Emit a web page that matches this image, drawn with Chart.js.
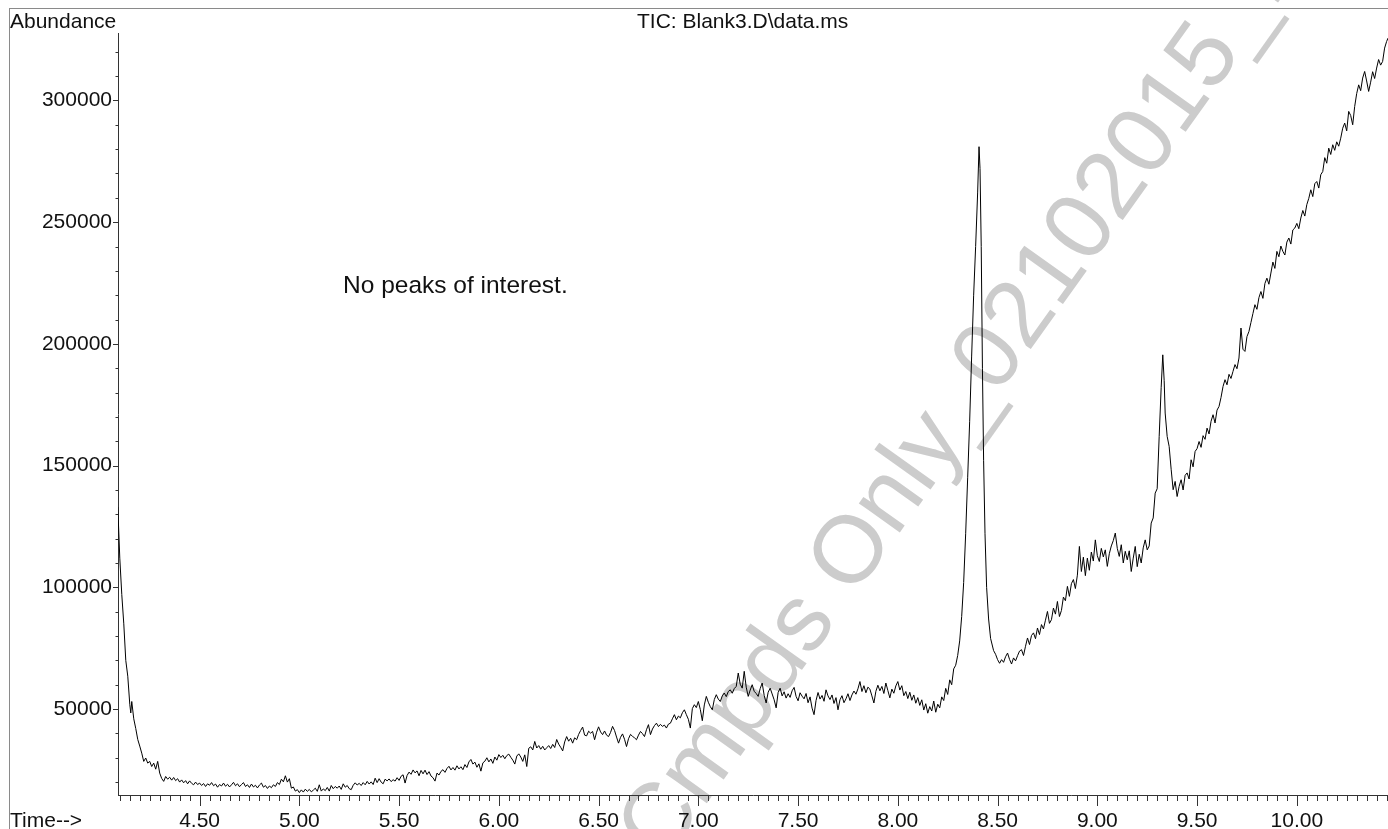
<!DOCTYPE html>
<html>
<head>
<meta charset="utf-8">
<script src="https://cdn.jsdelivr.net/npm/chart.js"></script>
<style>
  html, body { margin: 0; padding: 0; background: #fff; overflow: hidden; }
  #wrap { position: relative; width: 1388px; height: 829px; overflow: hidden;
          font-family: 'Liberation Sans', Arial, Helvetica, sans-serif; color: #111; }
  #frame { position: absolute; left: 9px; top: 8px; width: 1400px; height: 840px;
           border-left: 1px solid #8a8a8a; border-top: 1px solid #8a8a8a; }
  #watermark { position: absolute; left: 598px; top: 818px; font-size: 95px; line-height: 1;
               color: #cccccc; white-space: nowrap; transform-origin: 0 0; transform: rotate(-54.5deg); }
  #chart { position: absolute; left: 0; top: 0; }
  .lbl { position: absolute; font-size: 21px; line-height: 21px; white-space: nowrap; }
</style>
</head>
<body>
<div id="wrap">
  <div id="frame"></div>
  <div id="watermark">Cmpds Only_02102015_D</div>
  <canvas id="chart" width="1388" height="829"></canvas>
  <div class="lbl" style="left:10px; top:10px;">Abundance</div>
  <div class="lbl" style="left:637px; top:10px;">TIC: Blank3.D\data.ms</div>
  <div class="lbl" style="left:343px; top:273px; font-size:24.5px; line-height:24.5px;">No peaks of interest.</div>
  <div class="lbl" style="left:10px; top:809px;">Time--&gt;</div>
</div>
<script>
// retention time (min) and abundance
const scanTimes = [
  4.09, 4.10, 4.11, 4.12, 4.13, 4.14, 4.15, 4.155, 4.16, 4.17, 4.18, 4.19, 4.20, 4.21, 4.22, 4.23, 4.24, 4.25, 4.26, 4.27,
  4.28, 4.29, 4.30, 4.31, 4.32, 4.33, 4.34, 4.35, 4.36, 4.37, 4.38, 4.39, 4.40, 4.41, 4.42, 4.43, 4.44, 4.45, 4.46, 4.47,
  4.48, 4.49, 4.50, 4.51, 4.52, 4.53, 4.54, 4.55, 4.56, 4.57, 4.58, 4.59, 4.60, 4.61, 4.62, 4.63, 4.64, 4.65, 4.66, 4.67,
  4.68, 4.69, 4.70, 4.71, 4.72, 4.73, 4.74, 4.75, 4.76, 4.77, 4.78, 4.79, 4.80, 4.81, 4.82, 4.83, 4.84, 4.85, 4.86, 4.87,
  4.88, 4.89, 4.90, 4.91, 4.92, 4.93, 4.94, 4.95, 4.96, 4.97, 4.98, 4.99, 5.00, 5.01, 5.02, 5.03, 5.04, 5.05, 5.06, 5.07,
  5.08, 5.09, 5.10, 5.11, 5.12, 5.13, 5.14, 5.15, 5.16, 5.17, 5.18, 5.19, 5.20, 5.21, 5.22, 5.23, 5.24, 5.25, 5.26, 5.27,
  5.28, 5.29, 5.30, 5.31, 5.32, 5.33, 5.34, 5.35, 5.36, 5.37, 5.38, 5.39, 5.40, 5.41, 5.42, 5.43, 5.44, 5.45, 5.46, 5.47,
  5.48, 5.49, 5.50, 5.51, 5.52, 5.53, 5.54, 5.55, 5.56, 5.57, 5.58, 5.59, 5.60, 5.61, 5.62, 5.63, 5.64, 5.65, 5.66, 5.67,
  5.68, 5.69, 5.70, 5.71, 5.72, 5.73, 5.74, 5.75, 5.76, 5.77, 5.78, 5.79, 5.80, 5.81, 5.82, 5.83, 5.84, 5.85, 5.86, 5.87,
  5.88, 5.89, 5.90, 5.91, 5.92, 5.93, 5.94, 5.95, 5.96, 5.97, 5.98, 5.99, 6.00, 6.01, 6.02, 6.03, 6.04, 6.05, 6.06, 6.07,
  6.08, 6.09, 6.10, 6.11, 6.12, 6.13, 6.14, 6.15, 6.16, 6.17, 6.18, 6.19, 6.20, 6.21, 6.22, 6.23, 6.24, 6.25, 6.26, 6.27,
  6.28, 6.29, 6.30, 6.31, 6.32, 6.33, 6.34, 6.35, 6.36, 6.37, 6.38, 6.39, 6.40, 6.41, 6.42, 6.43, 6.44, 6.45, 6.46, 6.47,
  6.48, 6.49, 6.50, 6.51, 6.52, 6.53, 6.54, 6.55, 6.56, 6.57, 6.58, 6.59, 6.60, 6.61, 6.62, 6.63, 6.64, 6.65, 6.66, 6.67,
  6.68, 6.69, 6.70, 6.71, 6.72, 6.73, 6.74, 6.75, 6.76, 6.77, 6.78, 6.79, 6.80, 6.81, 6.82, 6.83, 6.84, 6.85, 6.86, 6.87,
  6.88, 6.89, 6.90, 6.91, 6.92, 6.93, 6.94, 6.95, 6.96, 6.97, 6.98, 6.99, 7.00, 7.01, 7.02, 7.03, 7.04, 7.05, 7.06, 7.07,
  7.08, 7.09, 7.10, 7.11, 7.12, 7.13, 7.14, 7.15, 7.16, 7.17, 7.18, 7.19, 7.20, 7.21, 7.22, 7.23, 7.24, 7.25, 7.26, 7.27,
  7.28, 7.29, 7.30, 7.31, 7.32, 7.33, 7.34, 7.35, 7.36, 7.37, 7.38, 7.39, 7.40, 7.41, 7.42, 7.43, 7.44, 7.45, 7.46, 7.47,
  7.48, 7.49, 7.50, 7.51, 7.52, 7.53, 7.54, 7.55, 7.56, 7.57, 7.58, 7.59, 7.60, 7.61, 7.62, 7.63, 7.64, 7.65, 7.66, 7.67,
  7.68, 7.69, 7.70, 7.71, 7.72, 7.73, 7.74, 7.75, 7.76, 7.77, 7.78, 7.79, 7.80, 7.81, 7.82, 7.83, 7.84, 7.85, 7.86, 7.87,
  7.88, 7.89, 7.90, 7.91, 7.92, 7.93, 7.94, 7.95, 7.96, 7.97, 7.98, 7.99, 8.00, 8.01, 8.02, 8.03, 8.04, 8.05, 8.06, 8.07,
  8.08, 8.09, 8.10, 8.11, 8.12, 8.13, 8.14, 8.15, 8.16, 8.17, 8.18, 8.19, 8.20, 8.21, 8.22, 8.23, 8.24, 8.25, 8.26, 8.27,
  8.28, 8.29, 8.30, 8.31, 8.32, 8.33, 8.34, 8.35, 8.36, 8.37, 8.38, 8.39, 8.40, 8.407, 8.412, 8.418, 8.424, 8.43, 8.437, 8.445,
  8.455, 8.465, 8.48, 8.49, 8.50, 8.51, 8.52, 8.53, 8.54, 8.55, 8.56, 8.57, 8.58, 8.59, 8.60, 8.61, 8.62, 8.63, 8.64, 8.65,
  8.66, 8.67, 8.68, 8.69, 8.70, 8.71, 8.72, 8.73, 8.74, 8.75, 8.76, 8.77, 8.78, 8.79, 8.80, 8.81, 8.82, 8.83, 8.84, 8.85,
  8.86, 8.87, 8.88, 8.89, 8.90, 8.91, 8.92, 8.93, 8.94, 8.95, 8.96, 8.97, 8.98, 8.99, 9.00, 9.01, 9.02, 9.03, 9.04, 9.05,
  9.06, 9.07, 9.08, 9.09, 9.10, 9.11, 9.12, 9.13, 9.14, 9.15, 9.16, 9.17, 9.18, 9.19, 9.20, 9.21, 9.22, 9.23, 9.24, 9.25,
  9.26, 9.27, 9.28, 9.29, 9.30, 9.31, 9.32, 9.328, 9.335, 9.34, 9.35, 9.36, 9.37, 9.38, 9.39, 9.40, 9.41, 9.42, 9.43, 9.44,
  9.45, 9.46, 9.47, 9.48, 9.49, 9.50, 9.51, 9.52, 9.53, 9.54, 9.55, 9.56, 9.57, 9.58, 9.59, 9.60, 9.61, 9.62, 9.63, 9.64,
  9.65, 9.66, 9.67, 9.68, 9.69, 9.70, 9.71, 9.72, 9.73, 9.74, 9.75, 9.76, 9.77, 9.78, 9.79, 9.80, 9.81, 9.82, 9.83, 9.84,
  9.85, 9.86, 9.87, 9.88, 9.89, 9.90, 9.91, 9.92, 9.93, 9.94, 9.95, 9.96, 9.97, 9.98, 9.99, 10.00, 10.01, 10.02, 10.03, 10.04,
  10.05, 10.06, 10.07, 10.08, 10.09, 10.10, 10.11, 10.12, 10.13, 10.14, 10.15, 10.16, 10.17, 10.18, 10.19, 10.20, 10.21, 10.22, 10.23, 10.24,
  10.25, 10.26, 10.27, 10.28, 10.29, 10.30, 10.31, 10.32, 10.33, 10.34, 10.35, 10.36, 10.37, 10.38, 10.39, 10.40, 10.41, 10.42, 10.43, 10.44,
  10.45, 10.457
];

const abundance = [
  133000, 112000, 97000, 85000, 70000, 63500, 52000, 48400, 53100, 46000, 42000, 37500, 34800, 31900, 28500, 29900, 27800, 28500, 26400, 27800,
  25300, 28500, 23700, 21500, 20300, 22300, 21200, 22000, 20800, 21900, 20600, 21400, 20000, 20900, 19700, 20600, 19300, 20500, 19500, 18900,
  20000, 19000, 19600, 18600, 19400, 18200, 19300, 18700, 19800, 18500, 19200, 17900, 19000, 18400, 19600, 18300, 19100, 18000, 18900, 19900,
  18500, 19300, 18100, 19000, 19800, 18200, 18900, 17800, 19200, 18000, 18700, 17600, 18800, 19600, 17900, 18600, 17400, 18400, 17700, 18900,
  18200, 19800, 19000, 21200, 20100, 22600, 20000, 21400, 17500, 18000, 16300, 16900, 15700, 16800, 15900, 17100, 16200, 17000, 16000, 16700,
  17500, 16200, 18900, 16300, 17200, 16500, 17800, 16300, 18600, 17300, 18200, 17500, 18400, 17000, 19300, 17900, 18600, 17300, 16900, 18700,
  19700, 18800, 19500, 18600, 19800, 18900, 20300, 19200, 20100, 19000, 21600, 19800, 21400, 20000, 19300, 21200, 20500, 21300, 20200, 21000,
  20400, 21800, 20700, 22400, 23000, 19600, 22700, 24100, 23200, 25000, 23800, 24600, 22600, 24800, 23400, 24900, 23100, 24300, 22500, 21800,
  20400, 23700, 22900, 24400, 25100, 24000, 25600, 26500, 25000, 26000, 24900, 26700, 25400, 26300, 25100, 27200, 26000, 28300, 29300, 27400,
  28200, 26100, 27500, 24500, 27900, 28600, 30000, 28300, 29500, 27700, 30300, 29000, 31300, 30100, 31000, 29600, 30900, 31500, 30200, 29000,
  27400, 30700, 31600, 30300, 28500, 31200, 26400, 33900, 34500, 33200, 36700, 34000, 35000, 33500, 34700, 33200, 34100, 35000, 33800, 35500,
  34200, 37500, 35600, 34300, 32800, 36500, 38700, 36800, 38000, 36000, 38200, 37400, 39600, 41200, 42600, 39300, 39000, 40900, 40100, 40800,
  37400, 40500, 42700, 40600, 39500, 41000, 39300, 38700, 40400, 42900, 41200, 38500, 36000, 38400, 39800, 37600, 34600, 37800, 39600, 38800,
  38200, 37400, 39300, 40800, 39900, 38700, 41500, 43600, 39500, 41800, 43200, 44200, 42800, 43700, 42900, 43400, 42200, 43800, 44200, 46000,
  47700, 45600, 47100, 46400, 48500, 49700, 47700, 45800, 42200, 50200, 51800, 50600, 53100, 49800, 45200, 51700, 55200, 52800, 51000, 49700,
  53900, 55900, 54100, 53100, 55400, 56600, 55100, 57200, 57900, 56500, 58400, 59300, 64800, 60200, 58600, 65500, 59000, 55200, 57800, 60000,
  57300, 56400, 55200, 58400, 60700, 55600, 52500, 56900, 58600, 56200, 53800, 50500, 56800, 58600, 55400, 57100, 54500, 56300, 54800, 57500,
  58900, 55200, 53400, 56700, 55300, 54200, 56400, 52600, 55000, 50400, 47700, 53500, 56800, 54100, 55600, 53200, 57900, 55400, 53900, 55800,
  52300, 54700, 49700, 53800, 55500, 52600, 54200, 56300, 53500, 55800, 57400, 56100, 58300, 61300, 57200, 59600, 56700, 59000, 58200, 55400,
  52500, 57300, 59800, 57500, 59300, 56400, 60700, 57600, 54600, 58200, 56500, 59500, 61300, 57800, 59600, 55500, 57200, 54300, 56900, 53600,
  55800, 52400, 54700, 51500, 53800, 49600, 52200, 48300, 51000, 49200, 53300, 48700, 52000, 50500, 55000, 53500, 58500, 56000, 62000, 60000,
  66500, 68000, 72000, 78000, 88000, 102000, 122000, 145000, 168000, 195000, 220000, 240000, 262000, 281000, 272000, 240000, 190000, 152000, 122000, 100000,
  87000, 79000, 74000, 72500, 70300, 68800, 70300, 69200, 71500, 73000, 70400, 68500, 71000, 69800, 71900, 73800, 74400, 72000, 75800, 79200,
  76500, 80200, 81300, 78900, 83300, 80600, 84700, 82900, 86500, 90100, 85200, 86700, 91500, 89000, 94200, 88000, 90500, 96000, 94500, 100400,
  96300, 101500, 103200, 99500, 105000, 116800, 106500, 112400, 104800, 112000, 107000, 114500, 110800, 119500, 113000, 110600, 116000, 112500, 115400, 108600,
  113800, 117000, 119200, 122300, 116000, 112700, 117500, 110000, 114800, 111300, 115000, 106500, 112000, 116800, 108500, 113600, 110000, 116200, 119500, 115400,
  117000, 126400, 128500, 138700, 140500, 162000, 182000, 195500, 185000, 171600, 162000, 157900, 148500, 140100, 143500, 137300, 141500, 144200, 140000, 146000,
  147000, 144500, 152400, 149500, 155800, 157000, 159900, 157500, 162300, 160800, 165400, 163000, 168200, 170900, 167500, 172800, 174300, 178000, 182500, 185300,
  183200, 187500, 185800, 188700, 191500, 189800, 194200, 206500, 197800, 196900, 203000, 205100, 208800, 212500, 216100, 214200, 219000, 221500, 218700, 224800,
  227000, 224500, 229100, 233600, 231000, 238000, 235800, 240200, 238000, 236500, 241800, 243500, 241000, 246800, 247600, 249500, 247300, 251700, 254800, 252500,
  257200, 259800, 263300, 260500, 265800, 266700, 264000, 269500, 270800, 276500, 274200, 280400, 277800, 281800, 279500, 283000, 281200, 284500, 288600, 290700,
  287500, 295500, 293800, 290000, 297500, 302800, 306400, 304000, 309200, 311900, 308000, 303700, 307500, 311800, 309000, 313300, 316800, 314500, 316000, 321500,
  324200, 325600
];

const xTickLabels = ['4.50', '5.00', '5.50', '6.00', '6.50', '7.00', '7.50', '8.00', '8.50', '9.00', '9.50', '10.00'];
const yTickLabels = ['50000', '100000', '150000', '200000', '250000', '300000'];

const X_MIN = 4.091, X_MAX = 10.457;
const Y_MIN = 14700, Y_MAX = 327700;
const AXIS_COLOR = '#333';

// minor ticks every 0.05 min and every 10000 counts
function xTickValues() {
  const vals = [];
  for (let k = Math.ceil(X_MIN * 20); k <= Math.floor(X_MAX * 20); k++) vals.push(Math.round(k * 5) / 100);
  return vals;
}
function yTickValues() {
  const vals = [];
  for (let v = Math.ceil(Y_MIN / 10000) * 10000; v <= Y_MAX; v += 10000) vals.push(v);
  return vals;
}
const isMajorX = v => xTickLabels.includes(v.toFixed(2));
const isMajorY = v => yTickLabels.includes(String(Math.round(v)));

// tick marks: long for labelled ticks, short for the others
const tickMarks = {
  id: 'tickMarks',
  afterDraw(chart) {
    const { ctx, chartArea, scales } = chart;
    ctx.save();
    ctx.strokeStyle = AXIS_COLOR;
    ctx.lineWidth = 1;
    ctx.beginPath();
    scales.x.ticks.forEach(t => {
      const px = Math.round(scales.x.getPixelForValue(t.value)) + 0.5;
      const len = isMajorX(t.value) ? 11 : 6;
      ctx.moveTo(px, chartArea.bottom);
      ctx.lineTo(px, chartArea.bottom + len);
    });
    scales.y.ticks.forEach(t => {
      const py = Math.round(scales.y.getPixelForValue(t.value)) + 0.5;
      const len = isMajorY(t.value) ? 5 : 2.5;
      ctx.moveTo(chartArea.left - len, py);
      ctx.lineTo(chartArea.left, py);
    });
    ctx.stroke();
    ctx.restore();
  }
};

Chart.defaults.font.family = "'Liberation Sans', Arial, Helvetica, sans-serif";
Chart.defaults.font.size = 21;
Chart.defaults.color = '#111';

const points = scanTimes.map((t, i) => ({ x: t, y: abundance[i] }));

new Chart(document.getElementById('chart'), {
  type: 'line',
  data: {
    datasets: [{
      label: 'TIC',
      data: points,
      borderColor: '#000',
      borderWidth: 1,
      pointRadius: 0,
      tension: 0,
      fill: false
    }]
  },
  options: {
    responsive: false,
    animation: false,
    devicePixelRatio: 1,
    layout: { padding: { top: 33, left: 0, right: 0, bottom: 0 } },
    plugins: { legend: { display: false }, tooltip: { enabled: false } },
    scales: {
      x: {
        type: 'linear',
        min: X_MIN,
        max: X_MAX,
        // fixed axis band, no extra side padding so the trace runs to the right edge
        afterFit: s => { s.height = 34; s.paddingLeft = 0; s.paddingRight = 0; },
        afterBuildTicks: s => { s.ticks = xTickValues().map(v => ({ value: v })); },
        grid: { display: false, drawTicks: false },
        border: { color: AXIS_COLOR, width: 1 },
        ticks: {
          autoSkip: false,
          maxRotation: 0,
          minRotation: 0,
          padding: 14,
          callback: v => isMajorX(v) ? v.toFixed(2) : ''
        }
      },
      y: {
        type: 'linear',
        min: Y_MIN,
        max: Y_MAX,
        afterFit: s => { s.width = 118; s.paddingTop = 0; s.paddingBottom = 0; },
        afterBuildTicks: s => { s.ticks = yTickValues().map(v => ({ value: v })); },
        grid: { display: false, drawTicks: false },
        border: { color: AXIS_COLOR, width: 1 },
        ticks: {
          autoSkip: false,
          padding: 6,
          callback: v => isMajorY(v) ? String(Math.round(v)) : ''
        }
      }
    }
  },
  plugins: [tickMarks]
});
</script>
</body>
</html>
